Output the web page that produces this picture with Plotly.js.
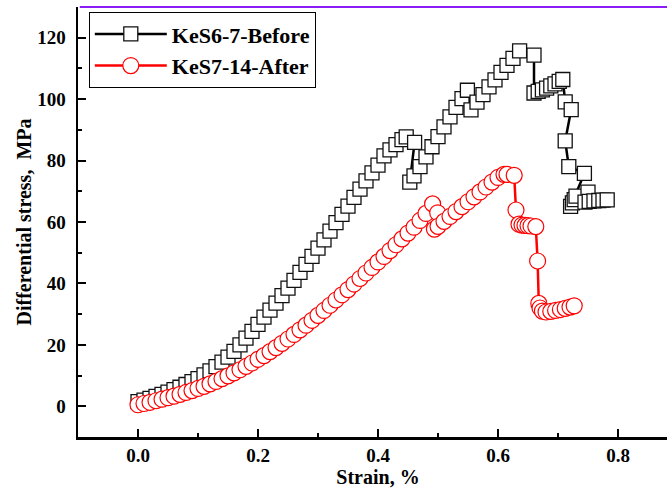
<!DOCTYPE html>
<html>
<head>
<meta charset="utf-8">
<script src="https://cdn.plot.ly/plotly-3.0.1.min.js"></script>
<style>
html,body{margin:0;padding:0;overflow:hidden;background:#fff;}
#chart{width:678px;height:488px;}
</style>
</head>
<body>
<div id="chart"></div>
<script>
// KeS6-7-Before (strain %, differential stress MPa)
const beforeStrain = [
  0.00,0.01,0.02,0.03,0.04,0.05,0.06,0.07,0.08,0.09,
  0.10,0.11,0.12,0.13,0.14,0.15,0.16,0.17,0.18,0.19,
  0.20,0.21,0.22,0.23,0.24,0.25,0.26,0.27,0.28,0.29,
  0.30,0.31,0.32,0.33,0.34,0.35,0.36,0.37,0.38,0.39,
  0.40,0.41,0.42,0.43,0.44,0.447,0.461,
  0.453,0.46,0.47,0.48,0.49,0.50,0.51,0.52,0.53,0.54,0.549,
  0.555,0.565,0.575,0.585,0.595,0.605,0.615,0.625,0.636,0.660,
  0.660,0.667,0.674,0.681,0.688,0.695,0.702,0.708,
  0.712,0.722,0.712,0.718,0.744,
  0.721,0.724,0.727,0.730,0.750,0.745,0.752,0.760,0.768,0.775,0.782
];
const beforeStress = [
  1.5,2.0,2.6,3.2,3.9,4.6,5.4,6.2,7.1,8.0,
  9.0,10.2,11.5,12.9,14.4,16.0,17.9,20.0,22.2,24.4,
  26.7,29.0,31.3,33.6,36.0,38.5,41.0,43.6,46.2,48.8,
  51.5,54.2,57.0,59.8,62.5,65.2,68.0,70.7,73.4,76.0,
  78.5,81.5,83.5,85.2,86.8,87.7,85.9,
  73.0,75.0,78.0,81.2,84.5,87.8,91.0,94.2,97.3,100.2,102.9,
  96.5,99.0,101.5,104.0,106.3,108.7,111.0,113.3,115.7,114.3,
  102.0,102.5,103.0,103.6,104.3,105.0,105.8,106.4,
  99.1,96.6,86.4,78.0,75.8,
  65.1,66.2,67.3,68.4,69.7,66.5,66.7,66.9,67.0,67.1,67.2
];

// KeS7-14-After
const afterStrain = [
  0.00,0.01,0.02,0.03,0.04,0.05,0.06,0.07,0.08,0.09,
  0.10,0.11,0.12,0.13,0.14,0.15,0.16,0.17,0.18,0.19,
  0.20,0.21,0.22,0.23,0.24,0.25,0.26,0.27,0.28,0.29,
  0.30,0.31,0.32,0.33,0.34,0.35,0.36,0.37,0.38,0.39,
  0.40,0.41,0.42,0.43,0.44,0.45,0.46,0.47,0.48,0.491,0.4995,
  0.494,0.50,0.51,0.52,0.53,0.54,0.55,0.56,0.57,0.58,0.59,0.60,0.61,0.615,0.627,
  0.630,0.635,0.640,0.645,0.650,0.655,0.663,
  0.666,
  0.668,0.670,0.674,0.680,0.688,0.696,0.704,0.712,0.720,0.727
];
const afterStress = [
  0.5,0.9,1.3,1.8,2.3,2.8,3.3,3.9,4.5,5.1,
  5.8,6.5,7.3,8.1,9.0,9.9,10.9,11.9,13.0,14.1,
  15.3,16.5,17.8,19.1,20.5,21.9,23.4,24.9,26.4,28.0,
  29.6,31.2,32.9,34.6,36.3,38.0,39.8,41.6,43.4,45.2,
  47.0,48.8,50.7,52.6,54.5,56.4,58.3,60.5,62.8,65.9,63.0,
  57.7,58.6,60.2,61.8,63.4,65.0,66.6,68.2,69.8,71.4,73.0,74.5,75.5,75.5,75.2,
  63.9,59.3,59.0,58.9,58.8,58.7,58.5,
  47.3,
  33.5,32.0,31.0,30.7,30.9,31.2,31.5,31.9,32.3,32.7
];

const xTicks = [0.0,0.2,0.4,0.6,0.8];
const yTicks = [0,20,40,60,80,100,120];

const FONT = 'Liberation Serif, Times New Roman, serif';

const traces = [
  {
    x: beforeStrain, y: beforeStress, name: 'KeS6-7-Before',
    type: 'scatter', mode: 'lines+markers',
    line: {color: '#000000', width: 2.5},
    marker: {symbol: 'square', size: 14, color: '#ffffff', line: {color: '#111111', width: 1.3}}
  },
  {
    x: afterStrain, y: afterStress, name: 'KeS7-14-After',
    type: 'scatter', mode: 'lines+markers',
    line: {color: '#ff0000', width: 2.5},
    marker: {symbol: 'circle', size: 16, color: '#ffffff', line: {color: '#ff0000', width: 1.2}}
  }
];

const layout = {
  width: 678, height: 488,
  margin: {l: 78, r: 0, t: 7, b: 51},
  paper_bgcolor: '#ffffff', plot_bgcolor: '#ffffff',
  font: {family: FONT, color: '#000000'},
  showlegend: true,
  legend: {
    x: 0.018, y: 0.988, xanchor: 'left', yanchor: 'top',
    bgcolor: '#ffffff', bordercolor: '#000000', borderwidth: 1,
    font: {family: FONT, size: 22, weight: 'bold', color: '#000000'},
    itemwidth: 72
  },
  xaxis: {
    range: [-0.1, 0.9],
    tickvals: xTicks, tickformat: '.1f',
    ticks: 'inside', ticklen: 8, tickwidth: 2, tickcolor: '#000',
    minor: {dtick: 0.1, tick0: 0, ticks: 'inside', ticklen: 4, tickwidth: 2, tickcolor: '#000'},
    showline: true, linewidth: 2.5, linecolor: '#000',
    showgrid: false, zeroline: false,
    tickfont: {family: FONT, size: 19, weight: 'bold', color: '#000'},
    ticklabelstandoff: 0,
    title: {text: 'Strain, %', font: {family: FONT, size: 20, weight: 'bold', color: '#000'}, standoff: 0}
  },
  yaxis: {
    range: [-10, 130],
    tickvals: yTicks,
    ticks: 'inside', ticklen: 8, tickwidth: 2, tickcolor: '#000',
    minor: {dtick: 10, tick0: 0, ticks: 'inside', ticklen: 4, tickwidth: 2, tickcolor: '#000'},
    showline: true, linewidth: 2.5, linecolor: '#000',
    showgrid: false, zeroline: false,
    tickfont: {family: FONT, size: 19, weight: 'bold', color: '#000'},
    ticklabelstandoff: 6,
    title: {text: 'Differential stress,  MPa', font: {family: FONT, size: 20, weight: 'bold', color: '#000'}, standoff: 0}
  },
  shapes: [
    {type: 'line', xref: 'paper', yref: 'paper', x0: 0.003, x1: 1, y0: 1, y1: 1,
     line: {color: '#8a1cf5', width: 2}}
  ]
};

Plotly.newPlot('chart', traces, layout, {displayModeBar: false, staticPlot: true});
</script>
</body>
</html>
